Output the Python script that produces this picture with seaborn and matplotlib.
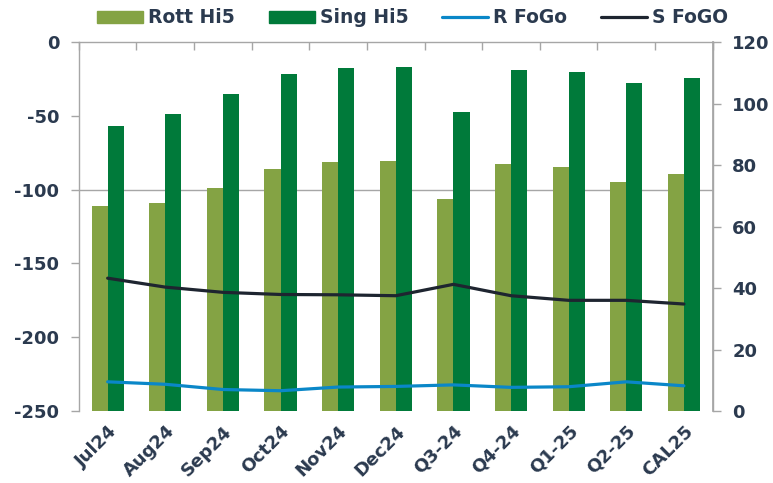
import numpy as np
import pandas as pd
import matplotlib
matplotlib.use("Agg")
import matplotlib.pyplot as plt
import seaborn as sns
from matplotlib.patches import Patch
from matplotlib.lines import Line2D

categories = ["Jul24", "Aug24", "Sep24", "Oct24", "Nov24", "Dec24",
              "Q3-24", "Q4-24", "Q1-25", "Q2-25", "CAL25"]
rott_hi5 = [-111.1, -109.3, -98.7, -86.3, -81.5, -80.8, -106.6, -82.9, -84.7, -94.6, -89.4]
sing_hi5 = [-57.1, -48.6, -35.5, -21.5, -17.4, -16.7, -47.4, -19.0, -20.6, -27.6, -24.6]
r_fogo = [9.5, 8.7, 7.0, 6.6, 7.8, 8.0, 8.5, 7.7, 7.9, 9.5, 8.2]
s_fogo = [43.2, 40.3, 38.6, 37.9, 37.8, 37.5, 41.2, 37.5, 36.0, 36.0, 34.8]
left_ticks = [0, -50, -100, -150, -200, -250]
right_ticks = [0, 20, 40, 60, 80, 100, 120]

C_ROTT = "#84A344"
C_SING = "#007A3A"
C_R = "#0A87C8"
C_S = "#1E2530"
TXT = "#2B3A4F"
GRAY = "#A6A6A6"
BASE = -250

sns.set_theme(style="white")
plt.rcParams["font.family"] = ["DejaVu Sans"]

fig = plt.figure(figsize=(7.73, 4.83), dpi=100)
ax = fig.add_axes([0.102, 0.149, 0.820, 0.764])

df = pd.DataFrame({
    "cat": categories * 2,
    "series": ["Rott Hi5"] * len(categories) + ["Sing Hi5"] * len(categories),
    "value": rott_hi5 + sing_hi5,
})
df["height"] = df["value"] - BASE

ax.axhline(-100, color=GRAY, lw=1, zorder=0)
sns.barplot(data=df, x="cat", y="height", hue="series", order=categories,
            palette={"Rott Hi5": C_ROTT, "Sing Hi5": C_SING},
            width=0.56, bottom=BASE, ax=ax, legend=False, saturation=1,
            edgecolor="none", linewidth=0, zorder=2)

ax.set_ylim(BASE, 0)
ax.set_xlim(-0.5, len(categories) - 0.5)
ax.set_yticks(left_ticks)
ax.set_yticklabels([str(t) for t in left_ticks])
ax.set_xlabel("")
ax.set_ylabel("")

ax.spines["bottom"].set_visible(False)
for s in ["left", "top", "right"]:
    ax.spines[s].set_color(GRAY)
    ax.spines[s].set_linewidth(1)

ax.tick_params(axis="y", direction="out", length=6, color=GRAY, width=1,
               labelsize=13, labelcolor=TXT, pad=8)
ax.set_xticks(range(len(categories)))
ax.set_xticklabels(categories, rotation=45, ha="right", rotation_mode="anchor",
                   fontsize=13, fontweight="bold", color=TXT)
ax.tick_params(axis="x", length=0, pad=8)
for lab in ax.get_yticklabels():
    lab.set_fontweight("bold")

ax.set_xticks(np.arange(len(categories) + 1) - 0.5, minor=True)
ax.tick_params(axis="x", which="minor", top=True, bottom=False, direction="in",
               length=6, color=GRAY, width=1)

ax2 = ax.twinx()
xs = np.arange(len(categories))
sns.lineplot(x=xs, y=r_fogo, ax=ax2, color=C_R, lw=2.3, zorder=5)
sns.lineplot(x=xs, y=s_fogo, ax=ax2, color=C_S, lw=2.3, zorder=5)
ax2.set_ylim(0, 120)
ax2.set_yticks(right_ticks)
ax2.set_yticklabels([str(t) for t in right_ticks])
ax2.tick_params(axis="y", direction="out", length=6, color=GRAY, width=1,
                labelsize=13, labelcolor=TXT, pad=8)
for lab in ax2.get_yticklabels():
    lab.set_fontweight("bold")
for s in ["left", "top", "bottom"]:
    ax2.spines[s].set_visible(False)
ax2.spines["right"].set_color(GRAY)
ax2.grid(False)
ax.grid(False)

handles = [Patch(color=C_ROTT, label="Rott Hi5"),
           Patch(color=C_SING, label="Sing Hi5"),
           Line2D([], [], color=C_R, lw=2.3, label="R FoGo"),
           Line2D([], [], color=C_S, lw=2.3, label="S FoGO")]
leg = fig.legend(handles=handles, loc="center", bbox_to_anchor=(0.534, 0.963), ncol=4,
                 frameon=False, handlelength=2.45, handleheight=0.6, handletextpad=0.27,
                 columnspacing=1.8, prop={"size": 13.5, "weight": "bold"})
for t in leg.get_texts():
    t.set_color(TXT)

fig.savefig("out.png", dpi=100)
